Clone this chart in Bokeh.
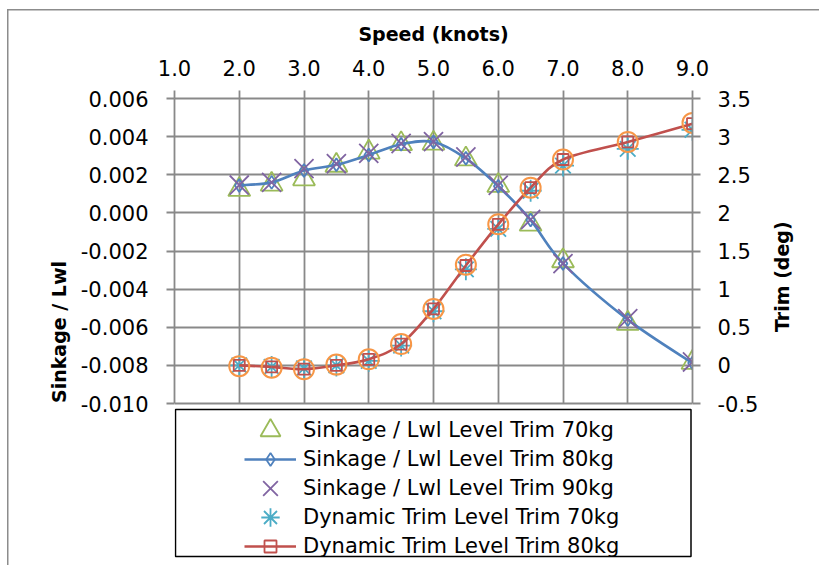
import numpy as np
from bokeh.plotting import figure
from bokeh.models import (Range1d, LinearAxis, FixedTicker, NumeralTickFormatter,
                          Legend, LegendItem, BoxAnnotation, Grid)
from bokeh.embed import file_html
from bokeh.resources import INLINE

# ---- data ----
speed = [2.0, 2.5, 3.0, 3.5, 4.0, 4.5, 5.0, 5.5, 6.0, 6.5, 7.0, 8.0, 9.0]
sink_70 = [0.00122, 0.00150, 0.00178, 0.00249, 0.00318, 0.00362, 0.00365,
           0.00282, 0.00143, -0.00060, -0.00252, -0.00580, -0.00785]
sink_80 = [0.00144, 0.00160, 0.00222, 0.00252, 0.00304, 0.00360, 0.00372,
           0.00286, 0.00140, -0.00038, -0.00265, -0.00560, -0.00788]
sink_90 = [0.00146, 0.00160, 0.00232, 0.00258, 0.00312, 0.00364, 0.00374,
           0.00293, 0.00145, -0.00035, -0.00266, -0.00555, -0.00782]
trim_70 = [0.00, -0.02, -0.04, 0.00, 0.06, 0.26, 0.71, 1.26, 1.79, 2.29, 2.62, 2.84, 3.09]
trim_80 = [0.00, -0.02, -0.05, 0.00, 0.08, 0.28, 0.74, 1.31, 1.85, 2.33, 2.70, 2.93, 3.17]
trim_90 = [-0.01, -0.03, -0.05, 0.01, 0.08, 0.28, 0.74, 1.32, 1.85, 2.33, 2.70, 2.93, 3.18]

x_ticks = [1, 2, 3, 4, 5, 6, 7, 8, 9]
left_ticks = [-0.010, -0.008, -0.006, -0.004, -0.002, 0.0, 0.002, 0.004, 0.006]
right_ticks = [-0.5, 0, 0.5, 1, 1.5, 2, 2.5, 3, 3.5]

labels = ["Sinkage / Lwl Level Trim 70kg", "Sinkage / Lwl Level Trim 80kg",
          "Sinkage / Lwl Level Trim 90kg", "Dynamic Trim Level Trim 70kg",
          "Dynamic Trim Level Trim 80kg"]

FONT = "DejaVu Sans"
GRID = "#898989"
GREEN, BLUE, PURPLE = "#9BBB59", "#4F81BD", "#8064A2"
CYAN, RED, ORANGE = "#4BACC6", "#C0504D", "#F79646"

# ---- layout (pixels) ----
W, H = 819, 565
F_LEFT, F_RIGHT, F_TOP, DATA_BOTTOM = 174, 692, 98, 403
# the frame continues below the data area so that the legend (below it) is inside the frame
extra = (H - DATA_BOTTOM) / (DATA_BOTTOM - F_TOP)
y_lo, y_hi = left_ticks[0], left_ticks[-1]
t_lo, t_hi = right_ticks[0], right_ticks[-1]
y_start = y_lo - extra * (y_hi - y_lo)
t_start = t_lo - extra * (t_hi - t_lo)

p = figure(width=W, height=H, x_range=Range1d(x_ticks[0], x_ticks[-1]),
           y_range=Range1d(y_start, y_hi),
           x_axis_location="above", output_backend="svg", toolbar_location=None,
           min_border_left=F_LEFT, min_border_right=W - F_RIGHT, min_border_top=F_TOP,
           min_border_bottom=0)
p.extra_y_ranges = {"trim": Range1d(t_start, t_hi)}
p.add_layout(LinearAxis(y_range_name="trim"), "right")

p.outline_line_color = None
p.background_fill_color = "white"
p.border_fill_alpha = 0
p.styles = {"background": "linear-gradient(#8c8c8c,#8c8c8c) 7px 9px / 1.5px 100% no-repeat, "
                          "linear-gradient(#8c8c8c,#8c8c8c) 7px 9px / 100% 1.5px no-repeat, #ffffff"}

xa = p.xaxis[0]
xa.ticker = FixedTicker(ticks=x_ticks)
xa.formatter = NumeralTickFormatter(format="0.0")
xa.axis_label = "Speed (knots)"
xa.major_label_standoff = 15
xa.axis_label_standoff = 12

ya = p.yaxis[0]
ya.ticker = FixedTicker(ticks=left_ticks)
ya.formatter = NumeralTickFormatter(format="0.000")
ya.axis_label = "Sinkage / Lwl"
ya.major_label_standoff = 18
ya.axis_label_standoff = 8
ya.bounds = (y_lo, y_hi)

ra = p.yaxis[1]
ra.ticker = FixedTicker(ticks=right_ticks)
ra.formatter = NumeralTickFormatter(format="0.[0]")
ra.axis_label = "Trim (deg)"
ra.major_label_standoff = 17
ra.axis_label_standoff = 21
ra.axis_label_orientation = np.pi / 2
ra.bounds = (t_lo, t_hi)

for ax in p.axis:
    ax.axis_line_color = GRID
    ax.axis_line_width = 1.8
    ax.major_tick_line_color = GRID
    ax.major_tick_line_width = 1.8
    ax.major_tick_out = 8
    ax.major_tick_in = 0
    ax.minor_tick_out = 0
    ax.minor_tick_in = 0
    ax.major_label_text_font = FONT
    ax.major_label_text_font_size = "21px"
    ax.major_label_text_color = "black"
    ax.axis_label_text_font = FONT
    ax.axis_label_text_font_size = "19px"
    ax.axis_label_text_font_style = "bold"
    ax.axis_label_text_color = "black"

p.ygrid.ticker = FixedTicker(ticks=left_ticks)
p.ygrid.grid_line_color = GRID
p.ygrid.grid_line_width = 1.8
p.xgrid.ticker = FixedTicker(ticks=x_ticks)
p.xgrid.grid_line_color = GRID
p.xgrid.grid_line_width = 1.8
if "cross_bounds" in Grid.properties():
    p.xgrid.cross_bounds = (y_lo, y_hi)
else:
    p.xgrid.visible = False
    p.segment(x0=x_ticks, x1=x_ticks, y0=[y_lo] * len(x_ticks), y1=[y_hi] * len(x_ticks),
              line_color=GRID, line_width=1.8, level="underlay")


def smooth(xs, ys):
    x = np.asarray(xs, float)
    y = np.asarray(ys, float)
    xp = np.concatenate([[x[0]], x, [x[-1]]])
    yp = np.concatenate([[y[0]], y, [y[-1]]])
    n = len(x)
    i = np.arange(n - 1)
    return dict(x0=x[:-1], y0=y[:-1], x1=x[1:], y1=y[1:],
                cx0=x[:-1] + (xp[i + 2] - xp[i]) / 6, cy0=y[:-1] + (yp[i + 2] - yp[i]) / 6,
                cx1=x[1:] - (xp[i + 3] - xp[i + 1]) / 6, cy1=y[1:] - (yp[i + 3] - yp[i + 1]) / 6)


r_tri = p.scatter(speed, sink_70, marker="triangle", size=22, fill_alpha=0,
                  line_color=GREEN, line_width=1.8)
r_bl = p.bezier(line_color=BLUE, line_width=2.6, **smooth(speed, sink_80))
r_dia = p.scatter(speed, sink_80, marker="diamond", size=13, fill_alpha=0,
                  line_color=BLUE, line_width=1.8)
r_x = p.scatter(speed, sink_90, marker="x", size=27, line_color=PURPLE, line_width=1.8)
r_ast = p.scatter(speed, trim_70, marker="asterisk", size=22, line_color=CYAN, line_width=1.8,
                  y_range_name="trim")
r_rl = p.bezier(line_color=RED, line_width=2.6, y_range_name="trim", **smooth(speed, trim_80))
r_sq = p.scatter(speed, trim_80, marker="square", size=11, fill_alpha=0, line_color=RED,
                 line_width=1.8, y_range_name="trim")
r_ci = p.scatter(speed, trim_90, marker="circle", size=20, fill_alpha=0, line_color=ORANGE,
                 line_width=2, y_range_name="trim")

# one legend per row so that each row's marker can have its own size
entries = [([r_tri], 50), ([r_bl, r_dia], 32), ([r_x], 52), ([r_ast], 46), ([r_rl, r_sq], 30)]
ROW0, PITCH = 430, 29
for k, (rends, gh) in enumerate(entries):
    centre = ROW0 + PITCH * k
    bottom = centre + gh / 2
    lg = Legend(items=[LegendItem(label=labels[k], renderers=rends)],
                location=(70, H - bottom))
    lg.padding = 0
    lg.margin = 0
    lg.spacing = 0
    lg.glyph_width = 52
    lg.glyph_height = gh
    lg.label_height = 20
    lg.label_standoff = 7
    lg.label_text_font = FONT
    lg.label_text_font_size = "21px"
    lg.label_text_color = "black"
    lg.border_line_alpha = 0
    lg.background_fill_alpha = 0
    p.add_layout(lg, "center")

# legend frame (screen units, measured from the frame's bottom-left corner)
p.add_layout(BoxAnnotation(left=1, right=F_RIGHT - F_LEFT - 1.5, top=H - 409, bottom=H - 556,
                           left_units="screen", right_units="screen",
                           top_units="screen", bottom_units="screen",
                           fill_alpha=0, line_color="black", line_alpha=1.0,
                           line_width=1.5, level="overlay"))

open("out.html", "w").write(file_html(p, INLINE))
